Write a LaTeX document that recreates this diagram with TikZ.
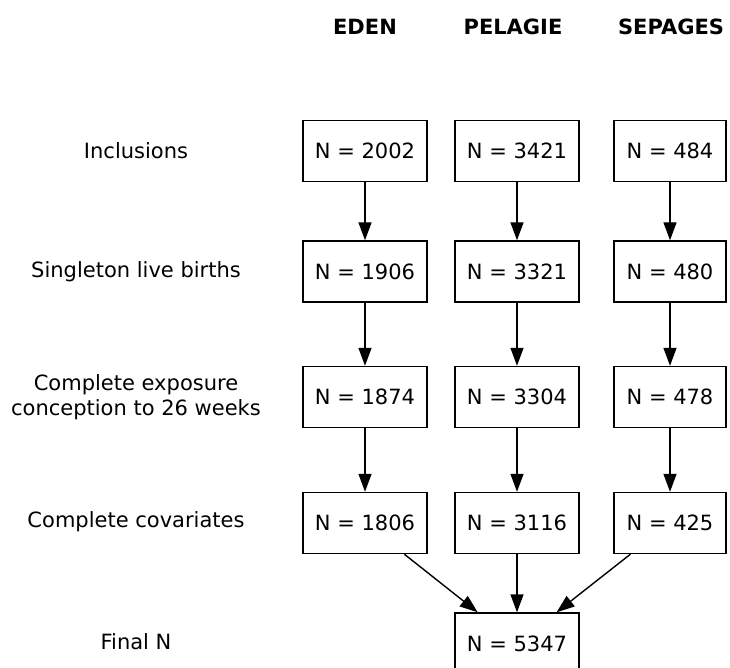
\documentclass[tikz,border=0pt]{standalone}
\usepackage{fontspec}
\setmainfont{DejaVu Sans}
\usetikzlibrary{arrows.meta}
\begin{document}
\begin{tikzpicture}[x=1pt,y=-1pt,
  every node/.style={font=\fontsize{21}{25}\selectfont},
  nbox/.style={draw, line width=1.4pt, minimum height=61pt, inner xsep=0pt, minimum width=124pt},
  sbox/.style={nbox, minimum width=112pt},
  lab/.style={align=center},
  head/.style={font=\fontsize{21}{25}\selectfont\bfseries},
  arr/.style={-{Triangle[length=18pt,width=13pt]}, line width=1.4pt}]
\useasboundingbox (0,0) rectangle (730,668);
\clip (0,0) rectangle (730,668);
% headings
\node[head] (hE) at (365,27) {EDEN};
\node[head] (hP) at (513,27) {PELAGIE};
\node[head] (hS) at (671,27) {SEPAGES};
% row labels
\node[lab] (l1) at (136,151) {Inclusions};
\node[lab] (l2) at (136,271.5) {Singleton live births};
\node[lab] (l3) at (136,397) {Complete exposure\\conception to 26 weeks};
\node[lab] (l4) at (136,522) {Complete covariates};
\node[lab] (l5) at (136,642) {Final N};
% EDEN
\node[nbox] (e1) at (365,151) {N = 2002};
\node[nbox] (e2) at (365,271.5) {N = 1906};
\node[nbox] (e3) at (365,397) {N = 1874};
\node[nbox] (e4) at (365,523) {N = 1806};
% PELAGIE
\node[nbox] (p1) at (517,151) {N = 3421};
\node[nbox] (p2) at (517,271.5) {N = 3321};
\node[nbox] (p3) at (517,397) {N = 3304};
\node[nbox] (p4) at (517,523) {N = 3116};
% SEPAGES
\node[sbox] (s1) at (670,151) {N = 484};
\node[sbox] (s2) at (670,271.5) {N = 480};
\node[sbox] (s3) at (670,397) {N = 478};
\node[sbox] (s4) at (670,523) {N = 425};
% final
\node[nbox] (f) at (517,643.5) {N = 5347};
% arrows
\draw[arr] (e1) -- (e2);
\draw[arr] (e2) -- (e3);
\draw[arr] (e3) -- (e4);
\draw[arr] (p1) -- (p2);
\draw[arr] (p2) -- (p3);
\draw[arr] (p3) -- (p4);
\draw[arr] (s1) -- (s2);
\draw[arr] (s2) -- (s3);
\draw[arr] (s3) -- (s4);
\draw[arr] (e4) -- (f);
\draw[arr] (p4) -- (f);
\draw[arr] (s4) -- (f);
\end{tikzpicture}
\end{document}
